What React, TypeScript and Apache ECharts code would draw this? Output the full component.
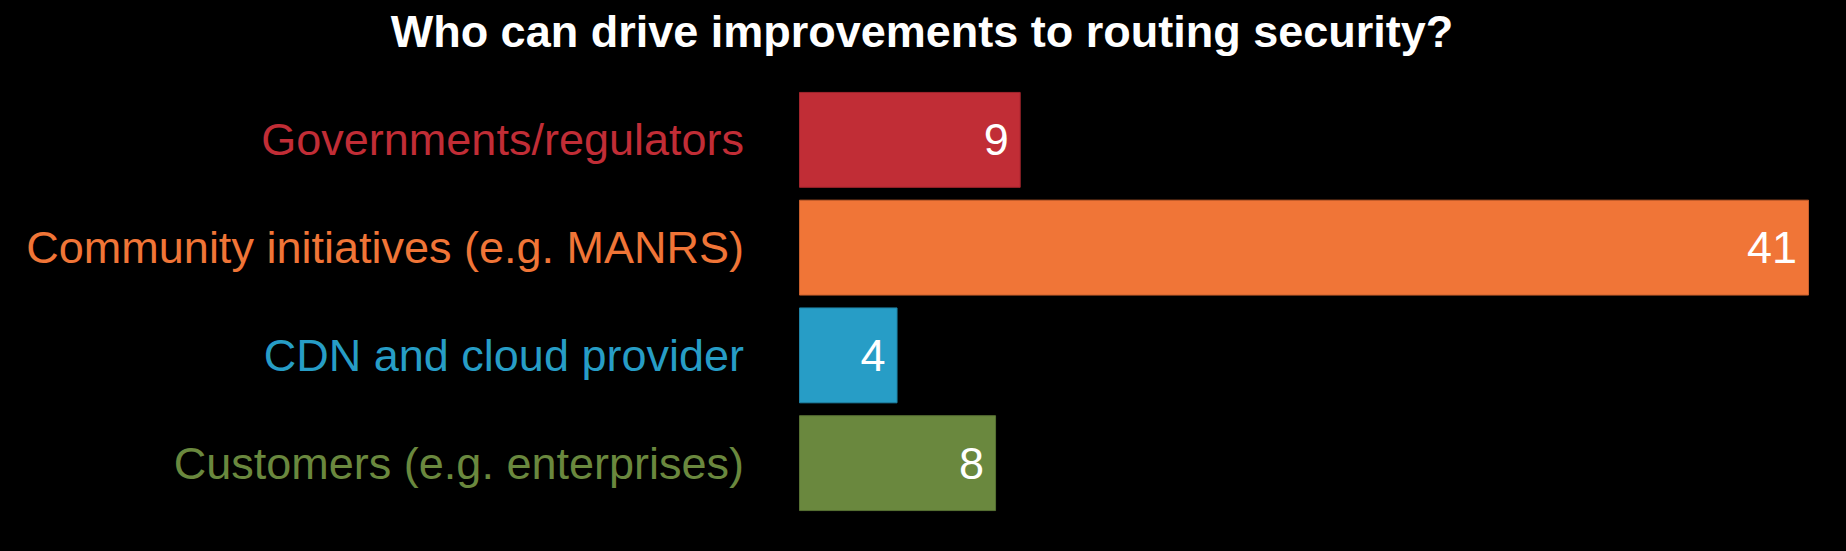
import React, { useEffect, useRef } from "react";
import * as echarts from "echarts";

const title = "Who can drive improvements to routing security?";
const categories = [
  "Governments/regulators",
  "Community initiatives (e.g. MANRS)",
  "CDN and cloud provider",
  "Customers (e.g. enterprises)",
];
const values = [9, 41, 4, 8];
const colors = ["#C12D36", "#F07537", "#279DC6", "#6A883E"];
const borderColors = ["#A2252D", "#C85F2C", "#1F83A6", "#577033"];

const FONT = "'Liberation Sans', Arial, Helvetica, sans-serif";

export default function App() {
  const ref = useRef<HTMLDivElement>(null);
  useEffect(() => {
    document.body.style.margin = "0";
    document.body.style.background = "#000";
    const chart = echarts.init(ref.current!, null, { renderer: "svg" });
    chart.setOption({
      animation: false,
      backgroundColor: "#000000",
      title: {
        text: title,
        left: 917,
        top: 4,
        textAlign: "center",
        textStyle: {
          color: "#ffffff",
          fontSize: 45,
          fontWeight: "bold",
          fontFamily: FONT,
        },
      },
      grid: { left: 799, top: 86, width: 1010, height: 431, containLabel: false },
      xAxis: {
        type: "value",
        min: 0,
        max: 41,
        show: false,
        splitLine: { show: false },
      },
      yAxis: {
        type: "category",
        inverse: true,
        data: categories.map((c, i) => ({
          value: c,
          textStyle: { color: colors[i] },
        })),
        axisLine: { show: false },
        axisTick: { show: false },
        splitLine: { show: false },
        axisLabel: {
          margin: 55,
          fontSize: 45,
          fontFamily: FONT,
        },
      },
      series: [
        {
          type: "bar",
          barCategoryGap: "11%",
          data: values.map((v, i) => ({
            value: v,
            itemStyle: { color: colors[i], borderColor: borderColors[i], borderWidth: 1 },
          })),
          label: {
            show: true,
            position: "insideRight",
            distance: 12,
            color: "#ffffff",
            fontSize: 45,
            fontFamily: FONT,
          },
        },
      ],
    });
    return () => chart.dispose();
  }, []);
  return <div ref={ref} style={{ width: 1846, height: 551 }} />;
}
